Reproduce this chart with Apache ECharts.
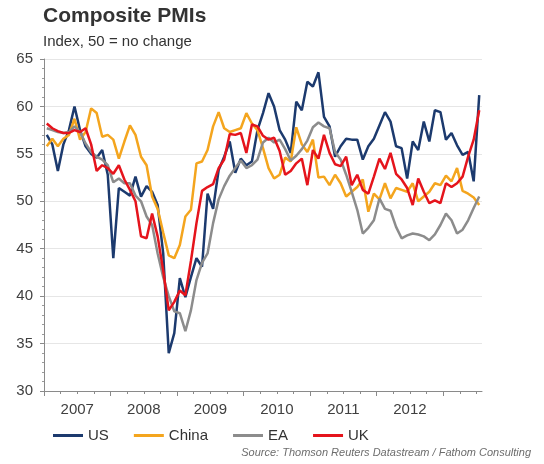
<!DOCTYPE html>
<html>
<head>
<meta charset="utf-8">
<script src="https://cdn.jsdelivr.net/npm/echarts@6/dist/echarts.min.js"></script>
<style>html,body{margin:0;padding:0;background:#fff}#c{width:544px;height:464px}</style>
</head>
<body>
<div id="c"></div>
<script>
// Monthly composite PMIs, Jan 2007 .. Jul 2013 (79 months)
var yearLabels = ['2007', '2008', '2009', '2010', '2011', '2012'];
var yTicks = [30, 35, 40, 45, 50, 55, 60, 65];
var seriesNames = ['US', 'China', 'EA', 'UK'];

var us = [57.0,56.0,53.2,56.0,57.5,60.0,57.5,55.8,55.0,54.6,
  55.4,52.8,44.0,51.4,51.0,50.6,52.6,50.5,51.6,51.0,
  49.6,44.5,34.0,36.1,41.9,39.9,42.0,44.0,43.1,50.8,
  49.2,53.3,54.7,56.3,53.0,54.5,53.8,54.2,57.5,59.3,
  61.4,60.0,57.5,56.5,55.1,60.5,59.6,62.6,62.1,63.6,
  58.9,57.9,54.7,55.8,56.6,56.5,56.5,54.4,55.8,56.6,
  58.0,59.4,58.4,55.8,55.6,52.4,56.3,55.4,58.4,56.3,
  59.6,59.4,56.5,57.2,55.9,54.9,55.2,52.1,61.2];

var china = [55.8,56.6,55.8,56.6,57.0,58.7,56.5,57.3,59.8,59.3,
  56.8,57.0,56.5,54.5,56.3,58.0,57.0,54.7,53.8,50.5,
  49.2,46.7,44.3,44.0,45.4,48.4,49.1,54.0,54.2,55.4,
  57.9,59.4,57.7,57.3,57.5,57.7,59.3,58.2,57.5,55.6,
  53.5,52.4,52.8,54.6,54.2,57.8,56.0,55.2,56.5,52.5,
  52.6,51.7,52.8,51.9,50.5,51.0,51.5,52.3,48.9,50.8,
  50.2,51.9,50.3,51.4,51.2,51.0,51.9,50.0,50.5,51.0,
  51.9,51.7,52.7,52.1,53.5,51.1,50.8,50.4,49.6];

var ea = [57.7,57.5,57.3,57.2,57.3,57.9,57.3,56.1,55.2,54.7,
  54.4,53.8,52.0,52.4,51.9,51.9,50.6,50.0,48.4,47.5,
  44.5,42.0,40.0,38.4,38.2,36.3,38.5,41.7,43.5,44.5,
  47.7,50.2,51.6,52.7,53.5,54.3,53.5,53.8,54.4,56.2,
  56.7,56.2,56.5,55.5,54.3,54.8,55.5,56.4,57.8,58.3,
  57.9,57.7,55.2,54.4,52.8,51.0,49.1,46.6,47.2,48.0,
  50.3,49.2,49.0,47.3,46.1,46.4,46.6,46.5,46.3,45.9,
  46.5,47.5,48.7,48.0,46.6,47.0,48.0,49.3,50.5];

var uk = [58.2,57.7,57.4,57.2,57.2,57.5,57.3,57.7,56.0,53.2,
  53.8,53.5,52.9,53.8,52.3,51.2,50.0,46.3,46.1,48.7,
  46.3,42.7,38.5,39.4,40.6,40.1,43.7,47.7,51.1,51.5,
  51.8,53.5,54.4,57.1,57.0,57.2,55.1,58.1,57.9,56.9,
  56.5,56.7,55.3,52.8,53.2,54.0,54.5,51.7,55.4,54.5,
  57.0,55.1,53.9,53.7,54.7,51.7,52.8,51.2,50.8,52.6,
  54.5,53.4,55.1,52.9,52.3,51.4,49.6,52.4,51.0,49.8,
  50.1,49.8,51.9,51.5,51.9,52.6,54.7,56.5,59.6];

var colors = ['#1c3a6e', '#f4a51e', '#8c8c8c', '#e5141c'];
var FONT = '"Liberation Sans", Arial, sans-serif';

function toPts(arr) { return arr.map(function (v, i) { return [i + 0.5, v]; }); }

var nMonths = 79;
var yearTickVals = [], labelVals = [], quarterVals = [];
for (var k = 0; k <= 6; k++) yearTickVals.push(k * 12);
yearLabels.forEach(function (y, k) { labelVals.push(k * 12 + 6); });
for (var q = 3; q < nMonths; q += 3) if (q % 12 !== 0) quarterVals.push(q);

var chart = echarts.init(document.getElementById('c'), null, { renderer: 'canvas' });
var allData = [us, china, ea, uk];

chart.setOption({
  animation: false,
  textStyle: { fontFamily: FONT },
  legend: {
    data: seriesNames,
    left: 48, top: 423,
    icon: 'rect', itemWidth: 30, itemHeight: 3, itemGap: 25,
    textStyle: { fontFamily: FONT, fontSize: 15, color: '#333333' }
  },
  graphic: [{
    type: 'text', left: 43, top: 6,
    style: { text: 'Composite PMIs', font: 'bold 21px ' + FONT, fill: '#333333' }
  }, {
    type: 'text', left: 43, top: 34,
    style: { text: 'Index, 50 = no change', font: '15px ' + FONT, fill: '#333333' }
  }, {
    type: 'text', right: 13, top: 447,
    style: { text: 'Source: Thomson Reuters Datastream / Fathom Consulting', font: 'italic 11px ' + FONT, fill: '#6d6d6d' }
  }],
  grid: { left: 44, right: 62, top: 59, bottom: 73, containLabel: false },
  xAxis: [{
    type: 'value', min: 0, max: nMonths, interval: 12,
    axisLine: { show: true, lineStyle: { color: '#8a8a8a', width: 1 } },
    axisTick: { show: true, customValues: yearTickVals, length: 5, inside: false, lineStyle: { color: '#8a8a8a' } },
    axisLabel: { customValues: labelVals, margin: 11, fontSize: 15, color: '#404040', fontFamily: FONT,
      formatter: function (v) { return yearLabels[Math.round((v - 6) / 12)] || ''; } },
    splitLine: { show: false }
  }, {
    type: 'value', min: 0, max: nMonths, interval: 12, position: 'bottom',
    axisLine: { show: false },
    axisTick: { show: true, customValues: quarterVals, length: 3, lineStyle: { color: '#8a8a8a' } },
    axisLabel: { show: false },
    splitLine: { show: false }
  }],
  yAxis: {
    type: 'value', min: yTicks[0], max: yTicks[yTicks.length - 1], interval: 5,
    axisLine: { show: true, lineStyle: { color: '#8a8a8a', width: 1 } },
    axisTick: { show: true, length: 4, lineStyle: { color: '#8a8a8a' } },
    minorTick: { show: true, splitNumber: 5, length: 2, lineStyle: { color: '#9a9a9a' } },
    axisLabel: { margin: 11, fontSize: 15, color: '#404040', fontFamily: FONT },
    splitLine: { show: true, lineStyle: { color: '#e6e6e6', width: 1 } }
  },
  series: seriesNames.map(function (name, idx) {
    return {
      name: name, type: 'line', xAxisIndex: 0,
      data: toPts(allData[idx]),
      showSymbol: false, symbol: 'none',
      lineStyle: { color: colors[idx], width: 2.5 },
      itemStyle: { color: colors[idx] }
    };
  })
});
</script>
</body>
</html>
